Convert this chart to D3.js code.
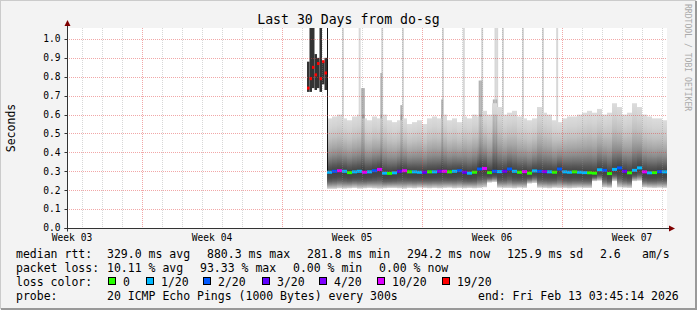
<!DOCTYPE html>
<html>
<head>
<meta charset="utf-8">
<title>Last 30 Days from do-sg</title>
<script src="https://cdn.jsdelivr.net/npm/d3@7"></script>
<style>
body { margin: 0; background: #fff; }
text { font-family: "DejaVu Sans Mono", monospace; fill: #000; }
</style>
</head>
<body>
<div id="chart"></div>
<script>

// time window of the graph (UTC)
var viewStart = Date.UTC(2026, 0, 15, 6);
var viewEnd = Date.UTC(2026, 1, 14, 6);
var HOUR = 3600 * 1000;

// the bad day before the move: 3 hour steps, 19/20 loss
var outageStart = Date.UTC(2026, 0, 27, 6);
var outageLow    = [0.72, 0.72, 0.74, 0.73, 0.74, 0.72, 0.76, 0.73];
var outageHigh   = [0.88, 1.07, 1.07, 0.92, 0.90, 1.07, 0.88, 0.90];
var outageMedian = [0.74, 0.79, 0.85, 0.81, 0.87, 0.79, 0.88, 0.82];
var outageLoss   = [19, 19, 19, 19, 19, 19, 19, 19];

// normal period: 6 hour steps
var rttStart = Date.UTC(2026, 0, 28, 6);
var rttMedian = [
  0.295, 0.300, 0.303, 0.300, 0.293, 0.297, 0.300, 0.295, 0.297, 0.303,
  0.310, 0.290, 0.289, 0.292, 0.300, 0.303, 0.297, 0.297, 0.295, 0.295,
  0.297, 0.297, 0.300, 0.300, 0.297, 0.300, 0.303, 0.295, 0.290, 0.295,
  0.312, 0.315, 0.293, 0.300, 0.298, 0.300, 0.312, 0.300, 0.295, 0.298,
  0.290, 0.302, 0.300, 0.298, 0.297, 0.295, 0.312, 0.297, 0.295, 0.297,
  0.295, 0.293, 0.292, 0.290, 0.308, 0.305, 0.288, 0.310, 0.318, 0.300,
  0.292, 0.305, 0.318, 0.297, 0.292, 0.293, 0.298, 0.297
];
var lossCount = [
  1, 2, 10, 1, 0, 1, 1, 10, 1, 2,
  10, 1, 0, 1, 3, 10, 0, 1, 1, 3,
  0, 1, 4, 10, 0, 1, 2, 3, 1, 0,
  2, 10, 0, 2, 1, 3, 2, 1, 0, 10,
  0, 1, 2, 4, 1, 0, 2, 1, 1, 0,
  1, 1, 0, 0, 1, 2, 0, 1, 2, 3,
  0, 1, 1, 10, 1, 0, 2, 1
];
var rttMin = [
  0.207, 0.207, 0.210, 0.208, 0.210, 0.212, 0.208, 0.210, 0.212, 0.210,
  0.208, 0.210, 0.212, 0.212, 0.210, 0.208, 0.212, 0.210, 0.213, 0.212,
  0.210, 0.212, 0.210, 0.212, 0.213, 0.210, 0.212, 0.210, 0.212, 0.210,
  0.212, 0.215, 0.240, 0.243, 0.213, 0.212, 0.212, 0.210, 0.213, 0.212,
  0.235, 0.238, 0.213, 0.212, 0.210, 0.213, 0.212, 0.212, 0.210, 0.212,
  0.213, 0.212, 0.212, 0.248, 0.250, 0.215, 0.213, 0.248, 0.215, 0.213,
  0.212, 0.248, 0.250, 0.215, 0.213, 0.212, 0.213, 0.212
];
var rttMax = [
  0.58, 0.59, 0.60, 0.58, 0.57, 0.59, 0.60, 0.58, 0.57, 0.59,
  0.58, 0.60, 0.57, 0.56, 0.57, 0.58, 0.55, 0.56, 0.57, 0.55,
  0.58, 0.59, 0.58, 0.60, 0.57, 0.58, 0.56, 0.59, 0.58, 0.60,
  0.59, 0.62, 0.60, 0.66, 0.64, 0.60, 0.61, 0.62, 0.59, 0.58,
  0.57, 0.58, 0.64, 0.61, 0.60, 0.57, 0.56, 0.58, 0.59, 0.59,
  0.60, 0.61, 0.62, 0.61, 0.63, 0.60, 0.61, 0.66, 0.64, 0.60,
  0.61, 0.66, 0.64, 0.60, 0.59, 0.58, 0.58, 0.57
];

// single pings far above the rest: [hours after rttStart, seconds]
var pingSpikes = [
  [18, 1.07], [38, 1.07], [65, 1.07], [90, 1.07], [138, 1.07], [163, 1.07],
  [185, 1.07], [201, 1.07], [203, 1.07], [210, 1.07], [234, 1.07],
  [258, 1.07], [275, 1.07]
];
// several pings up high: [hours after rttStart, seconds]
var spreadSpikes = [
  [41, 0.74], [43, 0.74], [64, 0.82], [88, 0.65], [137, 0.68],
  [182, 0.78], [184, 0.78], [199, 0.68], [202, 0.68]
];

var yTicks = [0.0, 0.1, 0.2, 0.3, 0.4, 0.5, 0.6, 0.7, 0.8, 0.9, 1.0];
var lossSteps = [0, 1, 2, 3, 4, 10, 19];
var lossLabels = ["0", "1/20", "2/20", "3/20", "4/20", "10/20", "19/20"];

var legendRtt = [["median rtt:", 16], ["329.0 ms avg", 107], ["880.3 ms max", 207],
  ["281.8 ms min", 307], ["294.2 ms now", 407], ["125.9 ms sd", 507], ["2.6", 600], ["am/s", 642]];
var legendLoss = [["packet loss:", 16], ["10.11 % avg", 107], ["93.33 % max", 200],
  ["0.00 % min", 293], ["0.00 % now", 379]];
var legendProbe = [["probe:", 16], ["20 ICMP Echo Pings (1000 Bytes) every 300s", 107],
  ["end: Fri Feb 13 03:45:14 2026", 478]];

var width = 697, height = 310;
var margin = {top: 28, right: 30, bottom: 82, left: 67};

var svg = d3.select("#chart").append("svg")
    .attr("width", width)
    .attr("height", height);

// background and frame
svg.append("rect").attr("width", width).attr("height", height).attr("fill", "#f3f3f3");
svg.append("path").attr("d", "M0,309 V0 H696").attr("fill", "none")
    .attr("stroke", "#cbcbcb").attr("stroke-width", 2);
svg.append("path").attr("d", "M1,309 H696 V1").attr("fill", "none")
    .attr("stroke", "#999").attr("stroke-width", 2);

var x = d3.scaleUtc()
    .domain([viewStart, viewEnd])
    .range([margin.left, width - margin.right]);
var y = d3.scaleLinear()
    .domain([0, 1.058])
    .range([height - margin.bottom, margin.top]);

var lossColor = d3.scaleOrdinal()
    .domain(lossSteps)
    .range(["#26ff00", "#00b8ff", "#0059ff", "#5e00ff", "#7e00ff", "#dd00ff", "#ff0000"]);

var defs = svg.append("defs");
defs.append("clipPath").attr("id", "clip").append("rect")
    .attr("x", x.range()[0]).attr("y", y.range()[1])
    .attr("width", x.range()[1] - x.range()[0])
    .attr("height", y.range()[0] - y.range()[1]);

function gradient(id, stops) {
  var g = defs.append("linearGradient").attr("id", id)
      .attr("x1", 0).attr("y1", 0).attr("x2", 0).attr("y2", 1);
  stops.forEach(function(s) {
    g.append("stop").attr("offset", s[0]).attr("stop-color", s[1]);
  });
}
// smoke above the median (top = max ping, bottom = median)
gradient("smokeUp", [[0, "#dcdcdc"], [0.18, "#d2d2d2"], [0.38, "#c0c0c0"],
  [0.56, "#a6a6a6"], [0.70, "#8c8c8c"], [0.81, "#707070"], [0.90, "#565656"], [1, "#404040"]]);
// smoke below the median (top = median, bottom = min ping)
gradient("smokeDown", [[0, "#404040"], [0.35, "#4a4a4a"], [0.55, "#606060"],
  [0.72, "#868686"], [0.88, "#b4b4b4"], [1, "#d6d6d6"]]);

// canvas
svg.append("rect")
    .attr("x", x.range()[0]).attr("y", y.range()[1])
    .attr("width", x.range()[1] - x.range()[0])
    .attr("height", y.range()[0] - y.range()[1])
    .attr("fill", "#fff");

var plot = svg.append("g").attr("clip-path", "url(#clip)");

var bins = rttMedian.map(function(m, i) {
  return {t0: rttStart + i * 6 * HOUR, t1: rttStart + (i + 1) * 6 * HOUR,
          med: m, lo: rttMin[i], hi: rttMax[i], loss: lossCount[i]};
});
var outage = outageMedian.map(function(m, i) {
  return {t0: outageStart + i * 3 * HOUR, t1: outageStart + (i + 1) * 3 * HOUR,
          med: m, lo: outageLow[i], hi: outageHigh[i], loss: outageLoss[i]};
});

// tall single pings
plot.selectAll(".ping")
  .data(pingSpikes)
  .enter().append("rect")
    .attr("x", function(d) { return x(rttStart + d[0] * HOUR); })
    .attr("width", function(d) { return x(rttStart + (d[0] + 2.4) * HOUR) - x(rttStart + d[0] * HOUR); })
    .attr("y", function(d) { return y(d[1]); })
    .attr("height", function(d) { return y(0.35) - y(d[1]); })
    .attr("fill", "#d8d8d8");

plot.selectAll(".spread")
  .data(spreadSpikes)
  .enter().append("rect")
    .attr("x", function(d) { return x(rttStart + d[0] * HOUR); })
    .attr("width", function(d) { return x(rttStart + (d[0] + 2.4) * HOUR) - x(rttStart + d[0] * HOUR); })
    .attr("y", function(d) { return y(d[1]); })
    .attr("height", function(d) { return y(0.35) - y(d[1]); })
    .attr("fill", "#b2b2b2");

// smoke
plot.selectAll(".up")
  .data(bins)
  .enter().append("rect")
    .attr("x", function(d) { return x(d.t0); })
    .attr("width", function(d) { return x(d.t1) - x(d.t0); })
    .attr("y", function(d) { return y(d.hi); })
    .attr("height", function(d) { return y(d.med) - y(d.hi); })
    .attr("fill", "url(#smokeUp)");
plot.selectAll(".down")
  .data(bins)
  .enter().append("rect")
    .attr("x", function(d) { return x(d.t0); })
    .attr("width", function(d) { return x(d.t1) - x(d.t0); })
    .attr("y", function(d) { return y(d.med); })
    .attr("height", function(d) { return y(d.lo) - y(d.med); })
    .attr("fill", "url(#smokeDown)");

// streaks where several pings went up
plot.selectAll(".streak")
  .data(spreadSpikes)
  .enter().append("rect")
    .attr("x", function(d) { return x(rttStart + d[0] * HOUR); })
    .attr("width", function(d) { return x(rttStart + (d[0] + 2.4) * HOUR) - x(rttStart + d[0] * HOUR); })
    .attr("y", y(0.6))
    .attr("height", y(0.3) - y(0.6))
    .attr("fill", "#000")
    .attr("opacity", 0.12);

// outage day
plot.selectAll(".out")
  .data(outage)
  .enter().append("rect")
    .attr("x", function(d) { return x(d.t0); })
    .attr("width", function(d) { return x(d.t1) - x(d.t0); })
    .attr("y", function(d) { return y(d.hi); })
    .attr("height", function(d) { return y(d.lo) - y(d.hi); })
    .attr("fill", "#333");

// step from the outage back to normal
plot.append("line")
    .attr("x1", x(rttStart) + 0.5).attr("x2", x(rttStart) + 0.5)
    .attr("y1", y(y.domain()[1])).attr("y2", y(rttMedian[0]))
    .attr("stroke", "#111").attr("stroke-width", 1);

// median, coloured by loss
plot.selectAll(".med")
  .data(bins.concat(outage))
  .enter().append("rect")
    .attr("x", function(d) { return x(d.t0); })
    .attr("width", function(d) { return x(d.t1) - x(d.t0); })
    .attr("y", function(d) { return y(d.med) - 1.5; })
    .attr("height", 3)
    .attr("fill", function(d) { return lossColor(d.loss); });

// grid on top
var grid = svg.append("g");
var days = d3.utcDay.range(new Date(viewStart), new Date(viewEnd));
grid.selectAll(".vgrid")
  .data(days)
  .enter().append("line")
    .attr("x1", function(d) { return Math.round(x(d)) + 0.5; })
    .attr("x2", function(d) { return Math.round(x(d)) + 0.5; })
    .attr("y1", y.range()[1]).attr("y2", y.range()[0])
    .attr("stroke", function(d) { return d.getUTCDay() === 1 ? "rgba(225,60,60,0.45)" : "rgba(140,140,140,0.35)"; })
    .attr("stroke-dasharray", "1,1");
grid.selectAll(".hgrid")
  .data(yTicks.slice(1))
  .enter().append("line")
    .attr("x1", x.range()[0]).attr("x2", x.range()[1])
    .attr("y1", function(d) { return Math.round(y(d)) + 0.5; })
    .attr("y2", function(d) { return Math.round(y(d)) + 0.5; })
    .attr("stroke", "rgba(225,60,60,0.45)")
    .attr("stroke-dasharray", "1,1");

// axes
var x0 = x.range()[0] + 0.5, y0 = y.range()[0] + 0.5;
svg.append("line").attr("x1", x0).attr("x2", x0).attr("y1", y0 + 3).attr("y2", y.range()[1] - 3)
    .attr("stroke", "#333");
svg.append("line").attr("x1", x0 - 3).attr("x2", x.range()[1] + 3).attr("y1", y0).attr("y2", y0)
    .attr("stroke", "#333");
svg.append("path")
    .attr("d", "M" + (x0 - 3) + "," + (y.range()[1] - 2) + "l3,-6l3,6z")
    .attr("fill", "#7f0000");
svg.append("path")
    .attr("d", "M" + (x.range()[1] + 2) + "," + (y0 - 3) + "l6,3l-6,3z")
    .attr("fill", "#7f0000");

svg.selectAll(".ytick")
  .data(yTicks)
  .enter().append("line")
    .attr("x1", x0 - 3).attr("x2", x0)
    .attr("y1", function(d) { return Math.round(y(d)) + 0.5; })
    .attr("y2", function(d) { return Math.round(y(d)) + 0.5; })
    .attr("stroke", "#333");
svg.selectAll(".ylabel")
  .data(yTicks)
  .enter().append("text")
    .attr("x", x0 - 7)
    .attr("y", function(d) { return y(d); })
    .attr("dy", "0.35em")
    .attr("text-anchor", "end")
    .style("font-size", "9.6px")
    .text(function(d) { return d.toFixed(1); });

var weeks = d3.utcMonday.range(d3.utcMonday.floor(new Date(viewStart)), new Date(viewEnd));
svg.selectAll(".xlabel")
  .data(weeks)
  .enter().append("text")
    .attr("x", function(d) { return x(d.getTime() + 84 * HOUR); })
    .attr("y", y0 + 12)
    .attr("text-anchor", "middle")
    .style("font-size", "9.6px")
    .text(function(d) { return "Week " + d3.utcFormat("%V")(d); });

// titles
svg.append("text")
    .attr("x", width / 2).attr("y", 24)
    .attr("text-anchor", "middle")
    .style("font-size", "13.2px")
    .text("Last 30 Days from do-sg");
svg.append("text")
    .attr("transform", "translate(14.5," + (y.range()[0] + y.range()[1]) / 2 + ") rotate(-90)")
    .attr("text-anchor", "middle")
    .style("font-size", "11.5px")
    .text("Seconds");
svg.append("text")
    .attr("transform", "translate(685,4) rotate(90)")
    .style("font-size", "8.1px")
    .style("fill", "#aaa")
    .text("RRDTOOL / TOBI OETIKER");

// legend
function legendLine(items, yPos) {
  svg.selectAll(null)
    .data(items)
    .enter().append("text")
      .attr("x", function(d) { return d[1]; })
      .attr("y", yPos)
      .style("font-size", "11.5px")
      .style("white-space", "pre")
      .text(function(d) { return d[0]; });
}
legendLine(legendRtt, 257.5);
legendLine(legendLoss, 271.5);
legendLine([["loss color:", 16]], 285.5);
legendLine(legendProbe, 299.5);

var boxX = [108, 146, 203, 262, 319, 377, 442];
var lossLegend = svg.selectAll(".lossitem")
  .data(lossSteps)
  .enter().append("g")
    .attr("transform", function(d, i) { return "translate(" + boxX[i] + ",277)"; });
lossLegend.append("rect")
    .attr("x", 0.5).attr("y", 0.5).attr("width", 7).attr("height", 7)
    .attr("fill", function(d) { return lossColor(d); })
    .attr("stroke", "#000");
lossLegend.append("text")
    .attr("x", 15).attr("y", 8.5)
    .style("font-size", "11.5px")
    .text(function(d, i) { return lossLabels[i]; });

</script>
</body>
</html>
